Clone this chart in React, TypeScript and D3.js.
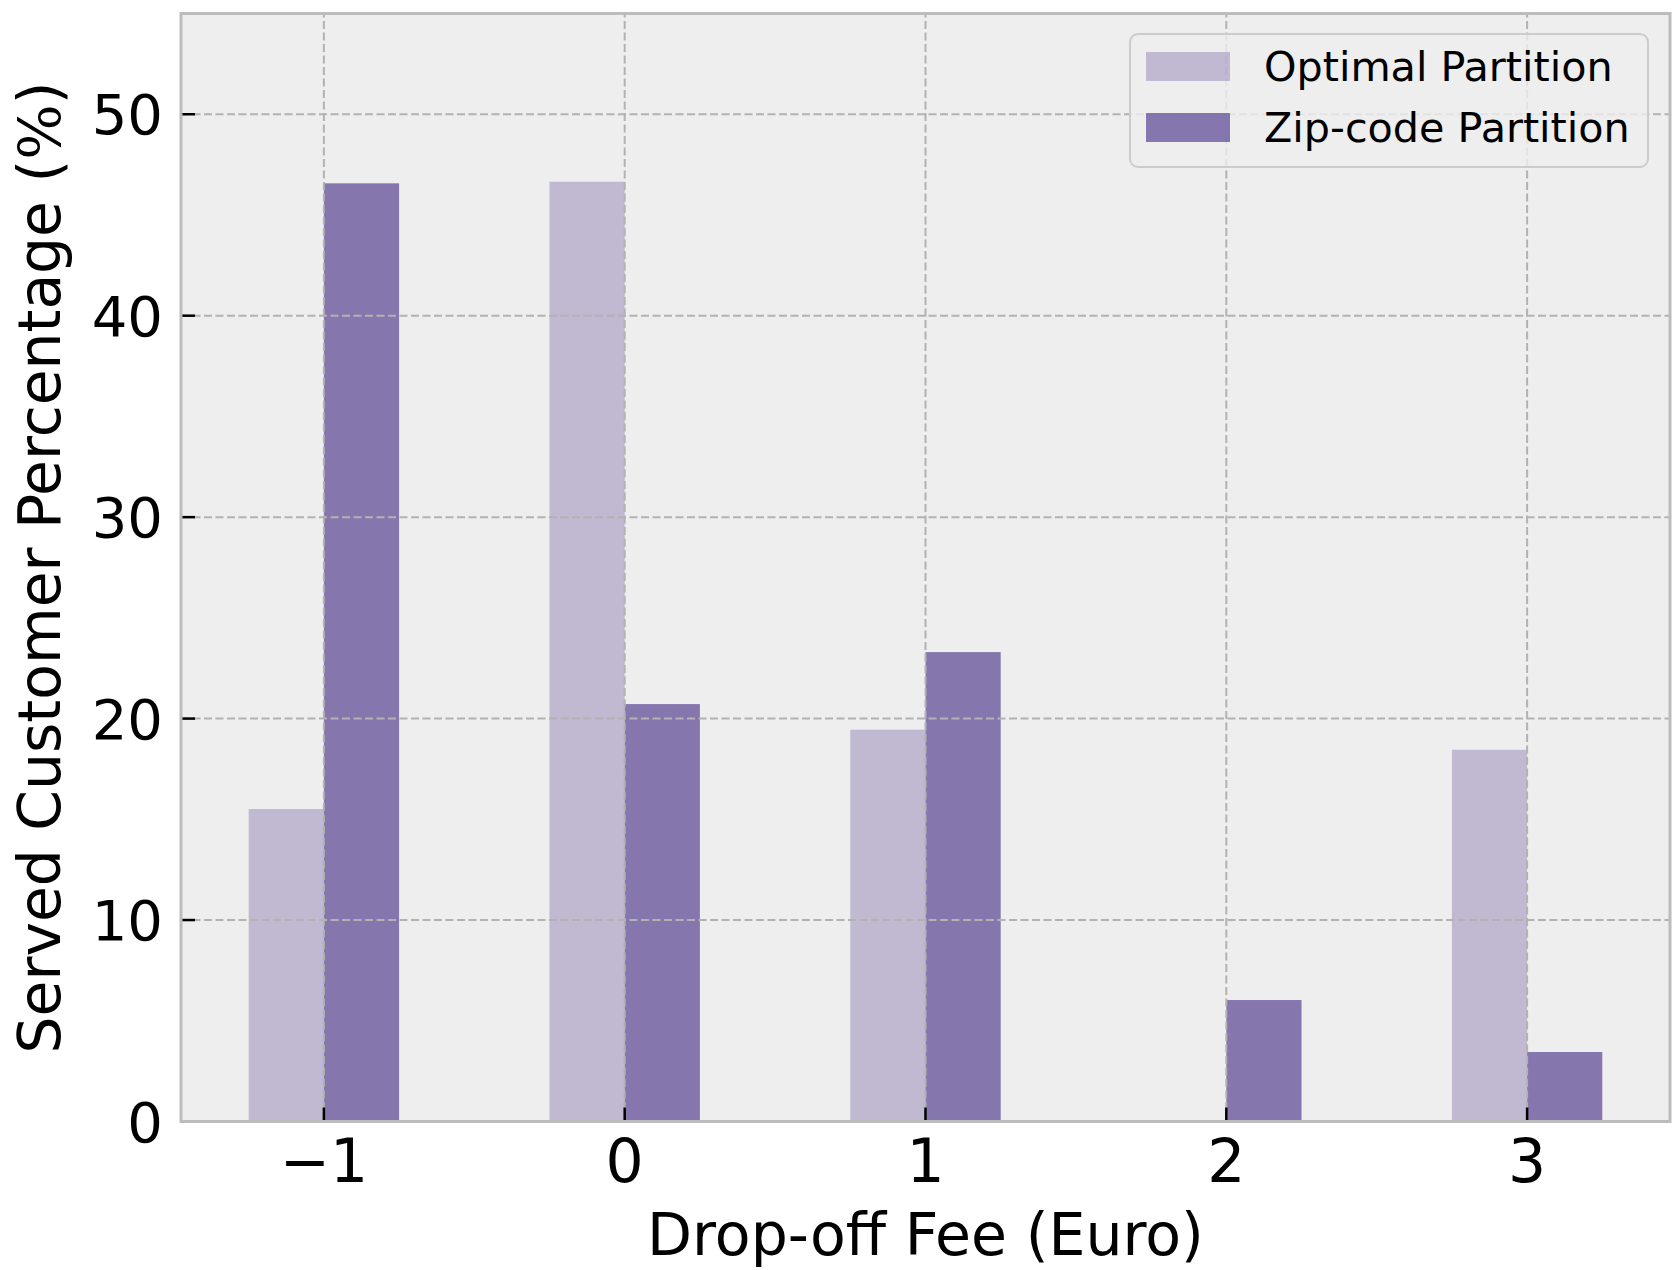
import React from "react";
import * as d3 from "d3";

const fees = [-1, 0, 1, 2, 3];
const feeLabels = ["\u22121", "0", "1", "2", "3"];
const optimalValues = [15.51, 46.65, 19.45, 0, 18.45];
const zipcodeValues = [46.57, 20.72, 23.3, 6.03, 3.45];
const yTicks = [0, 10, 20, 30, 40, 50];
const seriesNames = ["Optimal Partition", "Zip-code Partition"];

const W = 1680;
const H = 1270;
const margin = { top: 13.5, right: 10, bottom: 148.5, left: 181 };
const barWidth = 0.25;
const purple = "#7A68A6";
const font = "DejaVu Sans, sans-serif";

const App: React.FC = () => {
  const x = d3
    .scaleLinear()
    .domain([-1.475, 3.475])
    .range([margin.left, W - margin.right]);

  const y = d3
    .scaleLinear()
    .domain([0, 55])
    .range([H - margin.bottom, margin.top]);

  const x0 = margin.left;
  const x1 = W - margin.right;
  const y0 = H - margin.bottom;
  const y1 = margin.top;

  const series = [
    { name: seriesNames[0], values: optimalValues, offset: -barWidth, opacity: 0.4 },
    { name: seriesNames[1], values: zipcodeValues, offset: 0, opacity: 0.9 },
  ];

  return (
    <div style={{ position: "absolute", left: 0, top: 0 }}>
      <svg width={W} height={H} style={{ display: "block", background: "#fff" }}>
        {/* plot background */}
        <rect x={x0} y={y1} width={x1 - x0} height={y0 - y1} fill="#eeeeee" />

        {/* bars */}
        {series.map((s) =>
          s.values.map((v, i) => (
            <rect
              key={s.name + i}
              x={x(fees[i] + s.offset)}
              y={y(v)}
              width={x(fees[i] + s.offset + barWidth) - x(fees[i] + s.offset)}
              height={y(0) - y(v)}
              fill={purple}
              fillOpacity={s.opacity}
            />
          ))
        )}

        {/* grid, drawn above bars */}
        <g stroke="#b2b2b2" strokeWidth={2} strokeDasharray="8,3.5">
          {yTicks.slice(1).map((t) => (
            <line key={"gy" + t} x1={x0} x2={x1} y1={y(t)} y2={y(t)} />
          ))}
          {fees.map((f) => (
            <line key={"gx" + f} x1={x(f)} x2={x(f)} y1={y0} y2={y1} />
          ))}
        </g>

        {/* ticks */}
        <g stroke="#000" strokeWidth={2.5}>
          {yTicks.map((t) => (
            <line key={"ty" + t} x1={x0} x2={x0 + 14} y1={y(t)} y2={y(t)} />
          ))}
          {fees.map((f) => (
            <line key={"tx" + f} x1={x(f)} x2={x(f)} y1={y0} y2={y0 - 14} />
          ))}
        </g>

        {/* spines */}
        <rect
          x={x0}
          y={y1}
          width={x1 - x0}
          height={y0 - y1}
          fill="none"
          stroke="#bcbcbc"
          strokeWidth={3}
        />

        {/* tick labels */}
        <g fontFamily={font} fill="#000">
          {yTicks.map((t) => (
            <text key={"ly" + t} x={163} y={y(t) + 20} fontSize={56} textAnchor="end">
              {t}
            </text>
          ))}
          {fees.map((f, i) => (
            <text key={"lx" + f} x={x(f)} y={1182} fontSize={60} textAnchor="middle">
              {feeLabels[i]}
            </text>
          ))}
        </g>

        {/* axis labels */}
        <text
          x={(x0 + x1) / 2}
          y={1255}
          fontFamily={font}
          fontSize={58.5}
          textAnchor="middle"
        >
          Drop-off Fee (Euro)
        </text>
        <text
          transform={`translate(60,${(y0 + y1) / 2}) rotate(-90)`}
          fontFamily={font}
          fontSize={58.3}
          textAnchor="middle"
        >
          Served Customer Percentage (<tspan fontFamily="DejaVu Serif, serif">%</tspan>)
        </text>

        {/* legend */}
        <g>
          <rect
            x={1130}
            y={34}
            width={518}
            height={133}
            rx={8}
            fill="#eeeeee"
            fillOpacity={0.8}
            stroke="#cccccc"
            strokeWidth={2}
          />
          {series.map((s, i) => (
            <g key={"leg" + i}>
              <rect
                x={1146}
                y={52 + i * 61}
                width={84}
                height={29}
                fill={purple}
                fillOpacity={s.opacity}
              />
              <text x={1264} y={81 + i * 61} fontFamily={font} fontSize={41.3}>
                {s.name}
              </text>
            </g>
          ))}
        </g>
      </svg>
    </div>
  );
};

export default App;
